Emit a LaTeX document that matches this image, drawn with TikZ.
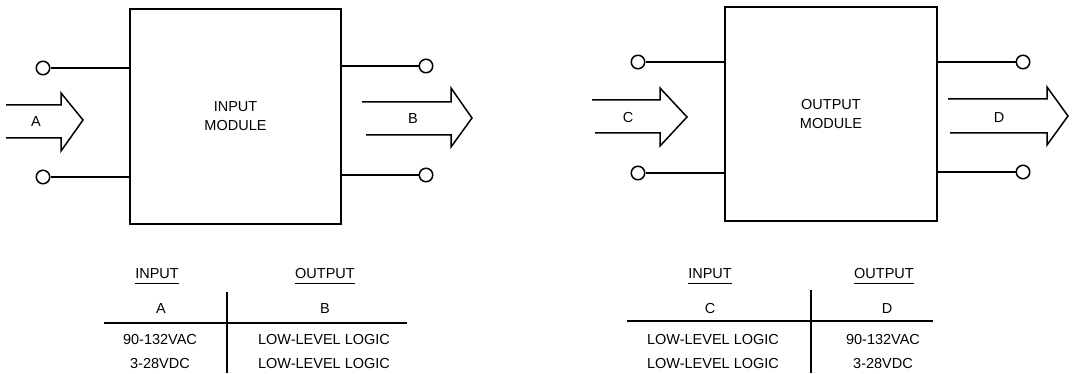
\documentclass[tikz,border=0pt]{standalone}
\usepackage{fontspec}
\setmainfont{Liberation Sans}
\begin{document}
\begin{tikzpicture}[x=1pt,y=-1pt,
  txt/.style={font=\fontsize{14.5}{19}\selectfont, inner sep=0pt, align=center},
  box/.style={draw, line width=1.8pt, inner sep=0pt, font=\fontsize{14.5}{19}\selectfont, align=center},
  term/.style={draw, circle, line width=1.5pt, minimum size=13.5pt, inner sep=0pt},
  wire/.style={line width=1.5pt},
  fat/.style={line width=1.5pt, line join=miter},
  rule/.style={line width=1.5pt},
  uline/.style={line width=0.9pt}]
\useasboundingbox (0,0) rectangle (1092,374);

% ---------- input module ----------
\node[box, minimum width=211pt, minimum height=215pt] (m1) at (235.5,116.5) {INPUT\\MODULE};
\node[term] (t1) at (43,68) {};
\node[term] (t2) at (43,177) {};
\node[term] (t3) at (426,66) {};
\node[term] (t4) at (426,175) {};
\draw[wire] (t1) -- (t1 -| m1.west);
\draw[wire] (t2) -- (t2 -| m1.west);
\draw[wire] (t3) -- (t3 -| m1.east);
\draw[wire] (t4) -- (t4 -| m1.east);
\draw[fat] (6,105) -- (61,105) -- (61,93) -- (83,120) -- (61,151) -- (61,138) -- (6,138);
\node[txt] (la) at (36,122) {A};
\draw[fat] (362,102) -- (451,102) -- (451,88) -- (472,118) -- (451,147) -- (451,135) -- (366,135);
\node[txt] (lb) at (413,119) {B};

% ---------- output module ----------
\node[box, minimum width=212pt, minimum height=214pt] (m2) at (831,114) {OUTPUT\\MODULE};
\node[term] (u1) at (638,62) {};
\node[term] (u2) at (638,173) {};
\node[term] (u3) at (1023,62) {};
\node[term] (u4) at (1023,172) {};
\draw[wire] (u1) -- (u1 -| m2.west);
\draw[wire] (u2) -- (u2 -| m2.west);
\draw[wire] (u3) -- (u3 -| m2.east);
\draw[wire] (u4) -- (u4 -| m2.east);
\draw[fat] (592,100) -- (660,100) -- (660,88) -- (687,117) -- (660,146) -- (660,133) -- (595,133);
\node[txt] (lc) at (628,118) {C};
\draw[fat] (948,99) -- (1047,99) -- (1047,87) -- (1068,116) -- (1047,145) -- (1047,133) -- (950,133);
\node[txt] (ld) at (999,118) {D};

% ---------- left table ----------
\node[txt] (h1) at (157,274) {INPUT};
\node[txt] (h2) at (325,274) {OUTPUT};
\draw[uline] ([yshift=-4pt]h1.south west) -- ([yshift=-4pt]h1.south east);
\draw[uline] ([yshift=-4pt]h2.south west) -- ([yshift=-4pt]h2.south east);
\node[txt] (ca) at (161,309) {A};
\node[txt] (cb) at (325,309) {B};
\coordinate (v1t) at (227,292);
\coordinate (v1b) at (227,373);
\draw[rule] (v1t) -- (v1b);
\coordinate (r1l) at (104,323);
\coordinate (r1r) at (407,323);
\draw[rule] (r1l) -- (r1r);
\node[txt] (a1) at (160,340) {90-132VAC};
\node[txt] (a2) at (160,364) {3-28VDC};
\node[txt] (b1) at (324,340) {LOW-LEVEL LOGIC};
\node[txt] (b2) at (324,364) {LOW-LEVEL LOGIC};

% ---------- right table ----------
\node[txt] (h3) at (710,274) {INPUT};
\node[txt] (h4) at (884,274) {OUTPUT};
\draw[uline] ([yshift=-4pt]h3.south west) -- ([yshift=-4pt]h3.south east);
\draw[uline] ([yshift=-4pt]h4.south west) -- ([yshift=-4pt]h4.south east);
\node[txt] (cc) at (710,309) {C};
\node[txt] (cd) at (887,309) {D};
\coordinate (v2t) at (811,290);
\coordinate (v2b) at (811,373);
\draw[rule] (v2t) -- (v2b);
\coordinate (r2l) at (627,321);
\coordinate (r2r) at (933,321);
\draw[rule] (r2l) -- (r2r);
\node[txt] (c1) at (713,340) {LOW-LEVEL LOGIC};
\node[txt] (c2) at (713,364) {LOW-LEVEL LOGIC};
\node[txt] (d1) at (883,340) {90-132VAC};
\node[txt] (d2) at (883,364) {3-28VDC};
\end{tikzpicture}
\end{document}
